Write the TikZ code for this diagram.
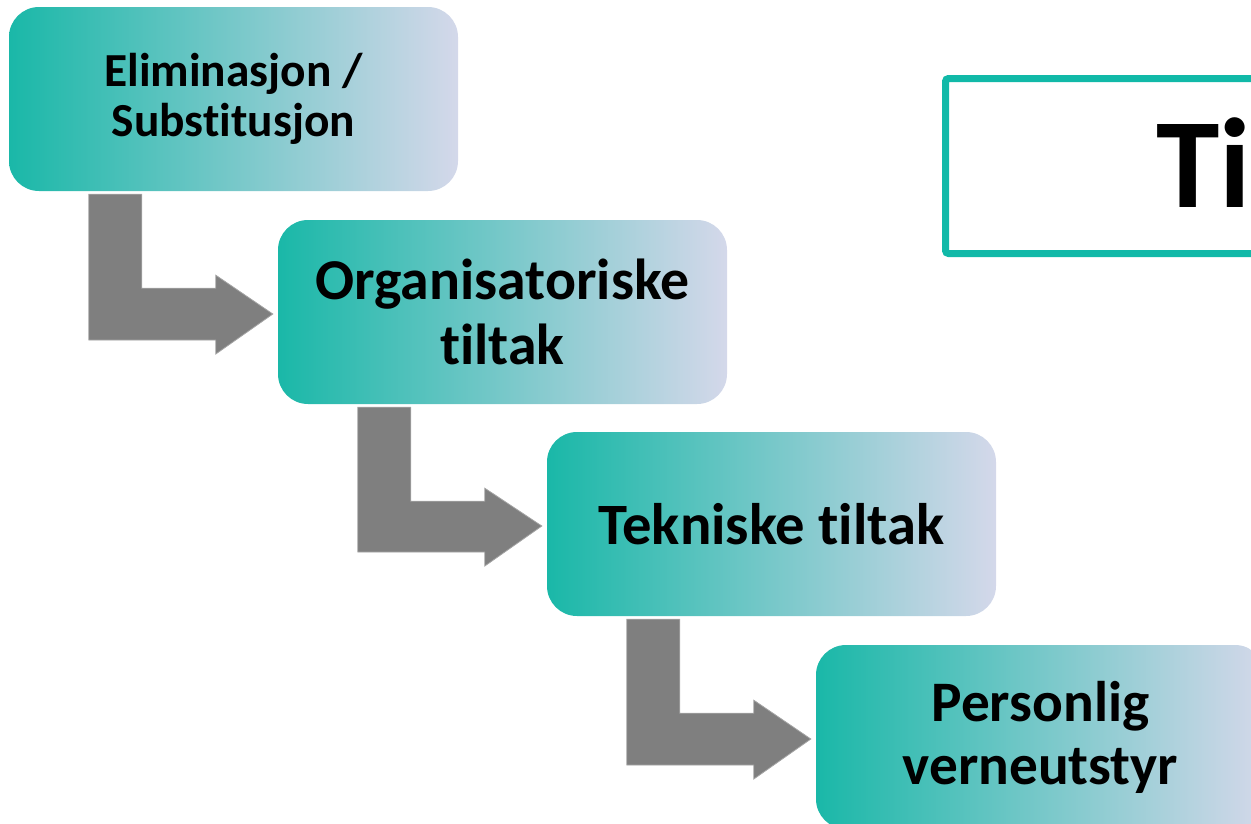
\documentclass[tikz,border=0pt]{standalone}
\usepackage{fontspec}
\setmainfont[Ligatures=NoCommon]{Carlito}
\usepackage{tikz}
\usepackage{xcolor}
\usetikzlibrary{calc}

\definecolor{tealL}{RGB}{26,184,168}
\definecolor{lavR}{RGB}{212,216,234}
\definecolor{frameteal}{RGB}{17,185,168}
\definecolor{arrowgray}{RGB}{127,127,127}
\definecolor{arrowedge}{RGB}{165,165,165}

\tikzset{
  stepbox/.style={rounded corners=30pt, minimum width=449pt, minimum height=184pt,
    inner sep=0pt, left color=tealL, right color=lavR, align=center},
  bentarrow/.style={fill=arrowgray, draw=arrowedge, line width=0.8pt, line join=miter},
  titleframe/.style={draw=frameteal, line width=7pt, rounded corners=3pt,
    minimum width=600pt, minimum height=175pt, inner sep=0pt}
}

\begin{document}
\begin{tikzpicture}[x=1pt, y=-1pt]
\useasboundingbox (0,0) rectangle (1251,823);

\node[stepbox, font={\bfseries\fontsize{47.4}{50}\selectfont}] (elim) at (233.5,99) {Eliminasjon /\\ Substitusjon};
\node[stepbox, font={\bfseries\fontsize{57.8}{65}\selectfont}] (org) at ($(elim)+(269,213)$) {Organisatoriske\\ tiltak};
\node[stepbox, font={\bfseries\fontsize{58.6}{64}\selectfont}] (tek) at ($(org)+(269,212)$) {Tekniske tiltak};
\node[stepbox, font={\bfseries\fontsize{57.3}{63}\selectfont}] (pvu) at ($(tek)+(269,213)$) {Personlig\\ verneutstyr};

\foreach \a/\b in {elim/org, org/tek, tek/pvu} {
  \draw[bentarrow] ($(\a.south west)+(80,3)$) -- ++(53,0) -- ++(0,94) -- ++(74,0) -- ++(0,-13)
    -- ($(\b.west)+(-5,2)$) -- ++(-57,40) -- ++(0,-14) -- ++(-127,0) -- cycle;
}

\node[titleframe, anchor=north west] (frame) at (942,75) {};
\node[anchor=base west, inner sep=0pt, font=\bfseries] (title) at (1156,207) {\fontsize{128}{128}\selectfont Ti};
\end{tikzpicture}
\end{document}
